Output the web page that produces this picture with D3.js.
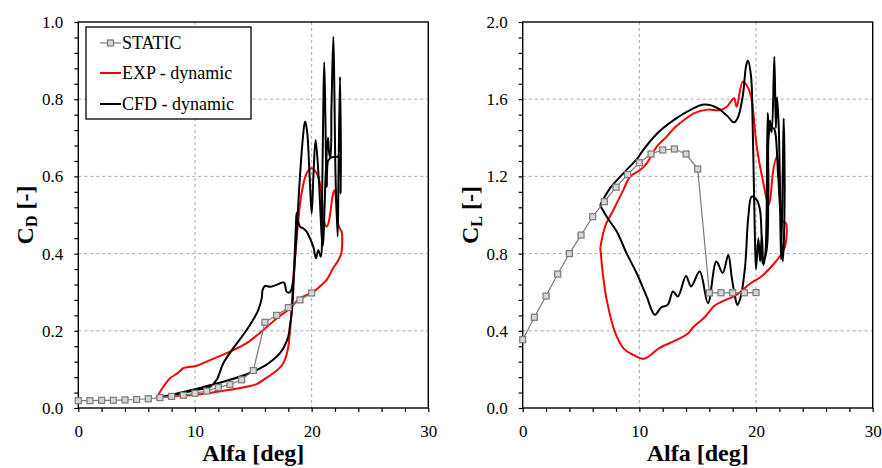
<!DOCTYPE html>
<html>
<head>
<meta charset="utf-8">
<script src="https://cdn.jsdelivr.net/npm/d3@7"></script>
<style>
  body { margin: 0; background: #fff; }
  svg { display: block; }
  svg text { font-family: "Times New Roman", "Liberation Serif", "DejaVu Serif", serif !important; fill: #000; }
</style>
</head>
<body>
<div id="chart"></div>
<script>
// static polar, one point per degree
var staticAlpha = [0,1,2,3,4,5,6,7,8,9,10,11,12,13,14,15,16,17,18,19,20];
var staticCD = [0.019,0.019,0.020,0.020,0.021,0.022,0.024,0.027,0.030,0.033,0.038,0.044,0.053,0.061,0.073,0.097,0.222,0.240,0.260,0.280,0.298];
var staticCL = [0.354,0.470,0.580,0.694,0.800,0.896,0.991,1.069,1.144,1.210,1.271,1.316,1.337,1.342,1.316,1.238,0.596,0.597,0.597,0.597,0.598];

// dynamic loops, [alfa, coefficient] in path order
var expCD = [[6.72,0.027],[8,0.030],[10,0.034],[11.5,0.040],[13,0.047],[14.43,0.055],[15.3,0.062],[15.86,0.073],[16.71,0.090],[17.2,0.102],
  [17.57,0.116],[17.85,0.138],[18.0,0.159],[18.2,0.219],[18.32,0.280],[18.43,0.340],[18.66,0.418],[18.86,0.487],[19.14,0.556],[19.57,0.608],
  [20.0,0.621],[20.43,0.608],[20.65,0.590],[20.86,0.550],[21.0,0.504],[21.15,0.475],[21.29,0.470],[21.45,0.480],[21.6,0.505],[21.8,0.550],
  [21.95,0.565],[22.1,0.540],[22.25,0.480],[22.4,0.466],[22.57,0.457],[22.62,0.430],[22.55,0.402],[22.29,0.383],[21.8,0.360],[21.29,0.332],
  [20.7,0.315],[20.14,0.301],[19.0,0.284],[18.14,0.258],[17.0,0.232],[15.86,0.202],[14.43,0.168],[13.0,0.146],[11.29,0.124],[10.0,0.108],
  [9.5,0.106],[9.0,0.103],[8.5,0.090],[7.86,0.077],[7.29,0.055],[6.72,0.027]];

var cfdCD = [[6.72,0.028],[8,0.034],[10.14,0.050],[13,0.073],[14.5,0.088],[15.86,0.107],[16.7,0.125],[17.29,0.142],[17.7,0.162],[18.0,0.185],
  [18.15,0.215],[18.29,0.245],[18.43,0.306],[18.55,0.400],[18.65,0.470],[18.71,0.505],[18.8,0.490],[19.0,0.470],[19.3,0.465],[19.57,0.457],
  [19.85,0.440],[20.14,0.418],[20.37,0.388],[20.57,0.409],[20.78,0.392],[20.9,0.550],[21.0,0.780],[21.08,0.896],[21.18,0.750],[21.29,0.573],
  [21.4,0.640],[21.57,0.647],[21.7,0.780],[21.86,0.962],[21.95,0.820],[22.05,0.600],[22.23,0.444],[22.3,0.600],[22.43,0.858],[22.49,0.556],
  [22.3,0.650],[21.9,0.650],[21.6,0.650],[21.4,0.700],[21.2,0.600],[20.95,0.420],[20.6,0.600],[20.34,0.694],[20.15,0.600],[20.0,0.504],
  [19.8,0.620],[19.6,0.720],[19.43,0.742],[19.25,0.700],[19.0,0.600],[18.8,0.500],[18.6,0.400],[18.43,0.332],[18.14,0.300],[17.86,0.301],
  [17.63,0.325],[17.0,0.319],[16.43,0.314],[16.0,0.316],[15.8,0.306],[15.72,0.284],[15.43,0.254],[15.15,0.237],[14.43,0.202],[13.29,0.155],
  [12.43,0.116],[11.86,0.073],[11.29,0.055],[10.14,0.047],[8.14,0.034],[6.72,0.028]];

var expCL = [[6.65,0.830],[7.06,0.940],[7.77,1.026],[8.63,1.130],[9.2,1.198],[10.06,1.233],[10.63,1.268],[11.49,1.354],[12.34,1.406],[13.0,1.451],
  [14.0,1.500],[14.71,1.528],[15.86,1.546],[16.91,1.544],[17.49,1.561],[18.11,1.605],[18.34,1.561],[18.86,1.691],[19.34,1.656],[19.63,1.596],
  [20.06,1.354],[20.63,1.164],[21.06,1.052],[21.2,1.078],[21.48,1.233],[21.77,1.302],[22.0,1.200],[22.2,0.974],[22.34,0.965],[22.57,0.957],
  [22.63,0.905],[22.48,0.836],[22.2,0.800],[21.57,0.750],[20.43,0.680],[19.5,0.645],[18.3,0.585],[17.2,0.555],[16.43,0.530],[15.6,0.470],
  [14.63,0.420],[14.14,0.385],[13.1,0.350],[11.7,0.310],[10.4,0.255],[9.49,0.275],[8.7,0.305],[7.9,0.395],[7.2,0.560],[6.9,0.680],[6.65,0.830]];

var cfdCL = [[6.63,1.050],[7.48,1.138],[8.63,1.216],[9.91,1.299],[10.14,1.321],[11.57,1.425],[13.0,1.494],[14.43,1.546],[15.57,1.572],[16.71,1.554],
  [17.57,1.511],[18.09,1.480],[18.43,1.503],[18.86,1.615],[19.14,1.770],[19.3,1.800],[19.57,1.720],[19.7,1.500],[19.8,1.200],[19.9,0.900],
  [20.0,0.720],[20.2,0.880],[20.35,0.760],[20.5,0.900],[20.63,0.740],[20.8,0.800],[20.9,0.990],[21.0,1.530],[21.1,1.420],[21.2,1.490],
  [21.35,1.430],[21.57,1.820],[21.7,1.450],[21.8,1.610],[21.95,1.450],[22.1,0.900],[22.15,0.770],[22.3,1.250],[22.37,1.500],[22.45,1.100],
  [22.3,0.760],[21.9,1.200],[21.5,1.450],[21.2,1.440],[21.06,1.130],[20.91,0.820],[20.57,0.750],[20.48,0.888],[20.34,1.026],[20.06,1.078],
  [19.63,1.095],[19.34,0.991],[19.06,0.732],[18.69,0.577],[18.4,0.534],[18.2,0.577],[17.91,0.680],[17.62,0.793],[17.14,0.700],[16.6,0.759],
  [15.88,0.543],[15.17,0.707],[14.43,0.630],[14.0,0.684],[13.3,0.578],[12.88,0.604],[12.43,0.535],[11.88,0.522],[11.32,0.483],[10.63,0.577],
  [9.77,0.698],[8.91,0.801],[8.06,0.914],[7.2,0.991],[6.63,1.050]];

var legendNames = ["STATIC", "EXP - dynamic", "CFD - dynamic"];

var width = 882, height = 468;
var serif = '"Times New Roman", "Liberation Serif", "DejaVu Serif", serif';
var svg = d3.select("#chart").append("svg")
    .attr("width", width)
    .attr("height", height)
    .attr("font-family", serif);

function drawPanel(left, ymax, sub, cStatic, cExp, cCfd) {
    var top = 22, bottom = 408, plotW = 350;
    var x = d3.scaleLinear().domain([0, 30]).range([left, left + plotW]);
    var y = d3.scaleLinear().domain([0, ymax]).range([bottom, top]);
    var g = svg.append("g");

    // dashed grid at the major ticks
    g.selectAll(".gx").data([10, 20]).join("line")
        .attr("x1", d => x(d)).attr("x2", d => x(d))
        .attr("y1", top).attr("y2", bottom)
        .attr("stroke", "#a8a8a8").attr("stroke-dasharray", "3,3");
    g.selectAll(".gy").data([1, 2, 3, 4].map(i => i * ymax / 5)).join("line")
        .attr("x1", left).attr("x2", left + plotW)
        .attr("y1", d => y(d)).attr("y2", d => y(d))
        .attr("stroke", "#a8a8a8").attr("stroke-dasharray", "3,3");

    var xAxis = d3.axisBottom(x)
        .tickValues(d3.range(0, 31, 2))
        .tickSize(4).tickSizeOuter(0).tickPadding(13)
        .tickFormat(d => d % 10 === 0 ? d : "");
    var yAxis = d3.axisLeft(y)
        .tickValues(d3.range(0, 26).map(i => i * ymax / 25))
        .tickSize(4).tickSizeOuter(0).tickPadding(11)
        .tickFormat((d, i) => i % 5 === 0 ? d3.format(".1f")(d) : "");

    var gx = g.append("g").attr("transform", `translate(0,${bottom})`).call(xAxis);
    var gy = g.append("g").attr("transform", `translate(${left},0)`).call(yAxis);
    [gx, gy].forEach(a => {
        a.attr("font-family", serif).attr("font-size", 17);
        a.selectAll("line").attr("stroke", "#000").attr("stroke-width", 1.2);
        a.select(".domain").remove();
    });

    // frame
    g.append("rect")
        .attr("x", left).attr("y", top)
        .attr("width", plotW).attr("height", bottom - top)
        .attr("fill", "none").attr("stroke", "#000").attr("stroke-width", 1.4);

    var line = d3.line().x(d => x(d[0])).y(d => y(d[1])).curve(d3.curveCatmullRom.alpha(0.5));

    g.append("path").datum(cExp)
        .attr("d", line).attr("fill", "none")
        .attr("stroke", "#ff0000").attr("stroke-width", 2);
    g.append("path").datum(cCfd)
        .attr("d", line).attr("fill", "none")
        .attr("stroke", "#000").attr("stroke-width", 2);

    var stat = staticAlpha.map((a, i) => [a, cStatic[i]]);
    g.append("path").datum(stat)
        .attr("d", d3.line().x(d => x(d[0])).y(d => y(d[1])))
        .attr("fill", "none").attr("stroke", "#7a7a7a").attr("stroke-width", 1.2);
    g.selectAll(".sq").data(stat).join("rect")
        .attr("x", d => x(d[0]) - 3).attr("y", d => y(d[1]) - 3)
        .attr("width", 6).attr("height", 6)
        .attr("fill", "#d6d6d6").attr("stroke", "#7a7a7a").attr("stroke-width", 1.2);

    // axis titles
    g.append("text")
        .attr("x", left + plotW / 2).attr("y", 461)
        .attr("text-anchor", "middle")
        .attr("font-size", 24).attr("font-weight", "bold")
        .text("Alfa [deg]");
    var yt = g.append("text")
        .attr("transform", `translate(${left - 45},${(top + bottom) / 2}) rotate(-90)`)
        .attr("text-anchor", "middle")
        .attr("font-size", 24).attr("font-weight", "bold");
    yt.append("tspan").text("C");
    yt.append("tspan").attr("dy", 4).attr("font-size", 16).text(sub);
    yt.append("tspan").attr("dy", -4).text(" [-]");
}

drawPanel(78.3, 1.0, "D", staticCD, expCD, cfdCD);
drawPanel(522.7, 2.0, "L", staticCL, expCL, cfdCL);

// legend
var lg = svg.append("g");
lg.append("rect")
    .attr("x", 86).attr("y", 27).attr("width", 165).attr("height", 92)
    .attr("fill", "#fff").attr("stroke", "#000").attr("stroke-width", 1.3);
var legendColors = ["#7a7a7a", "#ff0000", "#000"];
var legendY = [43, 73, 104];
legendNames.forEach((name, i) => {
    lg.append("line")
        .attr("x1", 100).attr("x2", 121)
        .attr("y1", legendY[i]).attr("y2", legendY[i])
        .attr("stroke", legendColors[i]).attr("stroke-width", i === 0 ? 1.2 : 2);
    if (i === 0) {
        lg.append("rect")
            .attr("x", 107.5).attr("y", legendY[i] - 3).attr("width", 6).attr("height", 6)
            .attr("fill", "#d6d6d6").attr("stroke", "#7a7a7a").attr("stroke-width", 1.2);
    }
    lg.append("text")
        .attr("x", 122).attr("y", legendY[i]).attr("dy", "0.35em")
        .attr("font-size", 18)
        .text(name);
});
</script>
</body>
</html>
